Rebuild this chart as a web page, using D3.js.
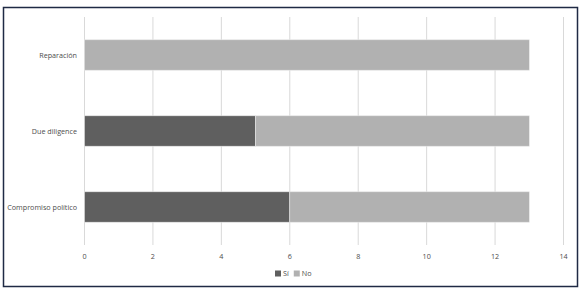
<!DOCTYPE html>
<html>
<head>
<meta charset="UTF-8">
<style>
  body { margin: 0; background: #fff; }
  text { font-family: "Open Sans", sans-serif; fill: #4d4d4d; }
</style>
<script src="https://d3js.org/d3.v7.min.js"></script>
</head>
<body>
<script>
// data
var categories = ["Reparación", "Due diligence", "Compromiso político"];
var si = [0, 5, 6];
var no = [13, 8, 7];
var seriesNames = ["Sí", "No"];
var xTicks = [0, 2, 4, 6, 8, 10, 12, 14];

var W = 584, H = 290;
var svg = d3.select("body").append("svg").attr("width", W).attr("height", H);

// outer frame
svg.append("rect")
  .attr("x", 3.5).attr("y", 7.5).attr("width", 574).attr("height", 279)
  .attr("fill", "#fff").attr("stroke", "#1f2a44").attr("stroke-width", 1.5);

var x = d3.scaleLinear().domain([0, 14]).range([84.5, 563.5]);
var y = d3.scaleBand().domain(categories).range([17, 245]).paddingInner(0.6).paddingOuter(0.3);

// gridlines
svg.append("g").selectAll("line").data(xTicks).join("line")
  .attr("x1", d => x(d)).attr("x2", d => x(d))
  .attr("y1", 17).attr("y2", 245)
  .attr("stroke", "#d9d9d9").attr("stroke-width", 1);

var colors = ["#5f5f5f", "#b1b1b1"];
var rows = categories.map((c, i) => ({ cat: c, vals: [si[i], no[i]] }));

rows.forEach(function(r) {
  var start = 0;
  r.vals.forEach(function(v, k) {
    if (v > 0) {
      svg.append("rect")
        .attr("x", x(start)).attr("y", y(r.cat))
        .attr("width", x(start + v) - x(start)).attr("height", y.bandwidth())
        .attr("fill", colors[k]).attr("stroke", "#e8e8e8").attr("stroke-width", 0.6);
    }
    start += v;
  });
});

// x axis labels
svg.append("g").selectAll("text").data(xTicks).join("text")
  .attr("x", d => x(d)).attr("y", 259)
  .attr("text-anchor", "middle").attr("font-size", 7.2)
  .text(d => d);

// category labels
svg.append("g").selectAll("text").data(categories).join("text")
  .attr("x", 77).attr("y", d => y(d) + y.bandwidth() / 2 + 2.5)
  .attr("text-anchor", "end").attr("font-size", 7.2)
  .text(d => d);

// legend
var lg = svg.append("g").attr("transform", "translate(275,273)");
var lx = 0;
seriesNames.forEach(function(n, k) {
  lg.append("rect").attr("x", lx).attr("y", -2.5).attr("width", 6).attr("height", 6).attr("fill", colors[k]);
  var t = lg.append("text").attr("x", lx + 8).attr("y", 3).attr("font-size", 7.2).text(n);
  lx += 8 + t.node().getComputedTextLength() + 5;
});
</script>
</body>
</html>
